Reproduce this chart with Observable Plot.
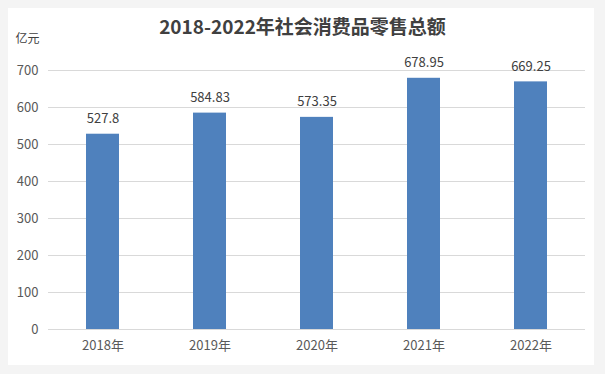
<!DOCTYPE html>
<html><head><meta charset="utf-8">
<script src="https://cdn.jsdelivr.net/npm/d3@7"></script>
<script src="https://cdn.jsdelivr.net/npm/@observablehq/plot@0.6"></script>
<style>
html,body{margin:0;padding:0;background:#f4f4f4;width:605px;height:374px;overflow:hidden;font-family:"Noto Sans CJK SC",sans-serif;}
#card{position:absolute;left:8px;top:8px;width:586px;height:357px;background:#fff;}
#title{position:absolute;left:0;top:14px;width:605px;text-align:center;font-size:19px;font-weight:bold;color:#404040;line-height:24px;}
#chart{position:absolute;left:0;top:0;}
</style></head>
<body>
<div id="card"></div>
<div id="title">2018-2022年社会消费品零售总额</div>
<div id="chart"></div>
<script>
const years = ["2018年","2019年","2020年","2021年","2022年"];
const values = [527.8, 584.83, 573.35, 678.95, 669.25];
const yTicks = [0,100,200,300,400,500,600,700];
const unitLabel = "亿元";

const data = years.map((y,i)=>({year:y, value:values[i]}));

const plot = Plot.plot({
  width:605, height:374,
  marginLeft:48, marginRight:20, marginTop:70, marginBottom:45,
  style:{background:"transparent", fontFamily:"'Noto Sans CJK SC',sans-serif", fontSize:"13px", color:"#595959"},
  x:{domain:years, paddingInner:0.69, paddingOuter:0.345, label:null},
  y:{domain:[0,700], label:null},
  marks:[
    Plot.gridY(yTicks, {stroke:"#d9d9d9", strokeOpacity:1}),
    Plot.axisY(yTicks, {tickSize:0, tickPadding:10, label:null, fill:"#595959", fontSize:13}),
    Plot.axisX({tickSize:0, tickPadding:11, label:null, fill:"#595959", fontSize:13}),
    Plot.barY(data, {x:"year", y:"value", fill:"#4f81bd"}),
    Plot.text(data, {x:"year", y:"value", text:d=>String(d.value), lineAnchor:"bottom", dy:-11, fill:"#404040", fontSize:13}),
    Plot.text([unitLabel], {frameAnchor:"top-left", text:d=>d, dx:-33, dy:-36, fill:"#404040", fontSize:12, textAnchor:"start"})
  ]
});
document.getElementById("chart").appendChild(plot);
</script>
</body></html>
